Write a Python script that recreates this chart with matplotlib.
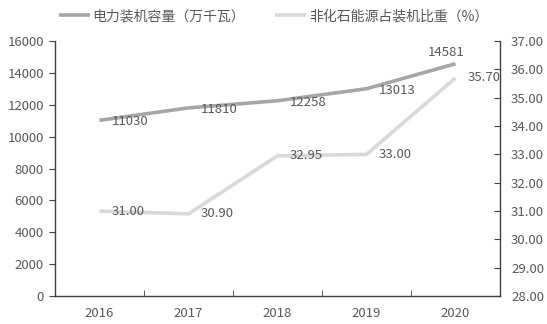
import matplotlib.pyplot as plt

plt.rcParams['font.family'] = ['Noto Sans CJK SC', 'DejaVu Sans']

years = ["2016", "2017", "2018", "2019", "2020"]
capacity = [11030, 11810, 12258, 13013, 14581]
share = [31.00, 30.90, 32.95, 33.00, 35.70]

dark = "#A6A6A6"
light = "#D9D9D9"
txt = "#595959"

fig = plt.figure(figsize=(5.47, 3.24), dpi=100)
ax = fig.add_axes([0.1005, 0.0864, 0.8135, 0.7866])
ax2 = ax.twinx()

x = range(len(years))
l1, = ax.plot(x, capacity, color=dark, lw=2.6, solid_capstyle="butt", zorder=3)
l2, = ax2.plot(x, share, color=light, lw=2.6, solid_capstyle="butt", zorder=2)
ax.set_zorder(ax2.get_zorder() + 1)
ax.patch.set_visible(False)

ax.set_xlim(-0.5, 4.5)
ax.set_ylim(0, 16000)
ax.set_yticks(range(0, 16001, 2000))
ax2.set_ylim(28, 37)
ax2.set_yticks(range(28, 38))
ax2.set_yticklabels([f"{v:.2f}" for v in range(28, 38)])

ax.set_xticks(list(x))
ax.set_xticklabels(years)
ax.set_xticks([i + 0.5 for i in range(-1, 5)], minor=True)
ax.tick_params(axis="x", which="major", length=0, pad=8, labelsize=9.5, colors=txt)
ax.tick_params(axis="x", which="minor", length=4, direction="in", color="#404040")
ax.tick_params(axis="y", length=4, direction="out", color="#404040", labelsize=9.5, labelcolor=txt, pad=4)
ax2.tick_params(axis="y", length=4, direction="in", color="#404040", labelsize=9.5, labelcolor=txt, pad=8)

for a in (ax, ax2):
    for s in a.spines.values():
        s.set_visible(False)
ax.spines["left"].set_visible(True)
ax.spines["bottom"].set_visible(True)
ax2.spines["right"].set_visible(True)
for s in (ax.spines["left"], ax.spines["bottom"], ax2.spines["right"]):
    s.set_color("#404040")
    s.set_linewidth(1.0)

for i, v in enumerate(capacity):
    if i == len(capacity) - 1:
        ax.annotate(str(v), (i, v), xytext=(-20, 8), textcoords="offset points",
                    ha="left", va="center", fontsize=9.5, color=txt)
    else:
        ax.annotate(str(v), (i, v), xytext=(9, -1), textcoords="offset points",
                    ha="left", va="center", fontsize=9.5, color=txt)
for i, v in enumerate(share):
    ax2.annotate(f"{v:.2f}", (i, v), xytext=(9, 0), textcoords="offset points",
                 ha="left", va="center", fontsize=9.5, color=txt)

fig.legend([l1, l2], ["电力装机容量（万千瓦）", "非化石能源占装机比重（%）"],
           loc="upper center", bbox_to_anchor=(0.5, 1.01), ncol=2, frameon=False,
           fontsize=10, labelcolor=txt, handlelength=2.2, handletextpad=0.2,
           columnspacing=2.2)

fig.savefig("out.png", dpi=100)
